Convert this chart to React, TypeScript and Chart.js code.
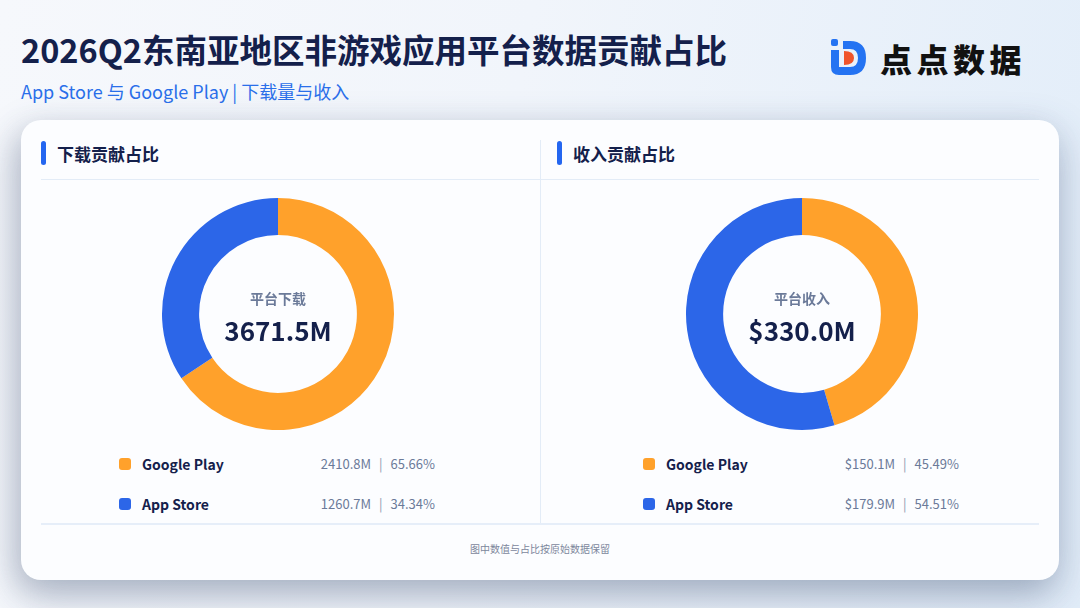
import React, { useEffect, useRef } from "react";
import { Chart, registerables } from "chart.js";

Chart.register(...registerables);

const platforms = ["Google Play", "App Store"];
const colors = ["#FFA12B", "#2C66E8"];
const downloadValues = [2410.8, 1260.7];
const downloadShares = ["65.66%", "34.34%"];
const revenueValues = [150.1, 179.9];
const revenueShares = ["45.49%", "54.51%"];
const downloadTotal = "3671.5M";
const revenueTotal = "$330.0M";

const FONT = "'Noto Sans CJK SC', 'Noto Sans', sans-serif";
const NAVY = "#14204B";
const GRAY = "#6B7A99";

function Donut({ values, left, top }: { values: number[]; left: number; top: number }) {
  const ref = useRef<HTMLCanvasElement | null>(null);
  useEffect(() => {
    if (!ref.current) return;
    const chart = new Chart(ref.current, {
      type: "doughnut",
      data: {
        labels: platforms,
        datasets: [
          {
            data: values,
            backgroundColor: colors,
            borderWidth: 0,
          },
        ],
      },
      options: {
        responsive: false,
        animation: false,
        cutout: "68%",
        layout: { padding: 4 },
        plugins: { legend: { display: false }, tooltip: { enabled: false } },
      },
    });
    return () => chart.destroy();
  }, []);
  return (
    <canvas
      ref={ref}
      width={240}
      height={240}
      style={{ position: "absolute", left, top, width: 240, height: 240 }}
    />
  );
}

function abs(left: number, top: number, extra: React.CSSProperties = {}): React.CSSProperties {
  return { position: "absolute", left, top, whiteSpace: "nowrap", ...extra };
}

function Panel({
  x,
  cx,
  title,
  values,
  shares,
  centerLabel,
  total,
  prefix,
}: {
  x: number;
  cx: number;
  title: string;
  values: number[];
  shares: string[];
  centerLabel: string;
  total: string;
  prefix: string;
}) {
  return (
    <>
      <div style={abs(x, 141, { width: 4.5, height: 24, borderRadius: 2.5, background: "#2466F0" })} />
      <div style={abs(x + 16, 140, { fontSize: 17, fontWeight: 700, color: NAVY, lineHeight: "28px" })}>
        {title}
      </div>
      <Donut values={values} left={cx - 120} top={194} />
      <div
        style={abs(cx - 80, 286, {
          width: 160,
          textAlign: "center",
          fontSize: 14,
          fontWeight: 700,
          color: GRAY,
          lineHeight: "24px",
        })}
      >
        {centerLabel}
      </div>
      <div
        style={abs(cx - 90, 312, {
          width: 180,
          textAlign: "center",
          fontSize: 26,
          fontWeight: 700,
          color: NAVY,
          lineHeight: "36px",
        })}
      >
        {total}
      </div>
      {platforms.map((p, i) => (
        <React.Fragment key={p}>
          <div
            style={abs(cx - 159, 458 + i * 40, {
              width: 12,
              height: 12,
              borderRadius: 3,
              background: colors[i],
            })}
          />
          <div
            style={abs(cx - 136, 452 + i * 40, {
              fontSize: 14,
              fontWeight: 700,
              color: NAVY,
              lineHeight: "24px",
            })}
          >
            {p}
          </div>
          <div
            style={abs(cx - 43, 452 + i * 40, {
              width: 200,
              textAlign: "right",
              fontSize: 13,
              color: GRAY,
              lineHeight: "24px",
            })}
          >
            {prefix + values[i].toFixed(1) + "M"}
            <span style={{ margin: "0 8px", color: "#8E98AE" }}>|</span>
            {shares[i]}
          </div>
        </React.Fragment>
      ))}
    </>
  );
}

export default function App() {
  return (
    <div
      style={{
        position: "fixed",
        left: 0,
        top: 0,
        width: 1080,
        height: 608,
        overflow: "hidden",
        fontFamily: FONT,
        background:
          "linear-gradient(100deg, #F6F8FC 0%, #F1F5FB 45%, #E2EDF9 100%)",
      }}
    >
      <div
        style={abs(21, 26, {
          fontSize: 32.5,
          fontWeight: 700,
          color: NAVY,
          lineHeight: "46px",
          letterSpacing: 0,
        })}
      >
        2026Q2东南亚地区非游戏应用平台数据贡献占比
      </div>
      <div style={abs(21, 78, { fontSize: 18, color: "#2A6FEA", lineHeight: "26px" })}>
        App Store 与 Google Play | 下载量与收入
      </div>
      {/* logo */}
      <svg style={abs(828, 37)} width={44} height={40} viewBox="0 0 44 40">
        <rect x={3} y={2} width={7} height={7} rx={2} fill="#2473F2" />
        <path
          d="M3 13 L3 30 Q3 38 11 38 L22 38 Q38 38 38 21 Q38 4 22 4 L15 4 L15 12 L22 12 Q30 12 30 21 Q30 30 22 30 L11 30 L11 13 Z"
          fill="#2473F2"
        />
        <path d="M16 14 Q26 14 26 21 Q26 28 16 28 Z" fill="#F0542A" />
      </svg>
      <div
        style={abs(880, 36, {
          fontSize: 32,
          fontWeight: 900,
          color: "#111",
          lineHeight: "44px",
          letterSpacing: 4.5,
        })}
      >
        点点数据
      </div>
      {/* card */}
      <div
        style={abs(21, 120, {
          width: 1038,
          height: 460,
          borderRadius: 20,
          background: "#FCFDFF",
          boxShadow: "0 14px 40px rgba(60,80,120,0.32), -8px 12px 30px rgba(80,90,110,0.18)",
        })}
      />
      <div style={abs(41, 179, { width: 998, height: 1, background: "#E3ECF7" })} />
      <div style={abs(540, 140, { width: 1, height: 384, background: "#E3ECF7" })} />
      <div style={abs(41, 523, { width: 998, height: 2, background: "#E6EEF9" })} />
      <Panel
        x={41}
        cx={278}
        title="下载贡献占比"
        values={downloadValues}
        shares={downloadShares}
        centerLabel="平台下载"
        total={downloadTotal}
        prefix=""
      />
      <Panel
        x={557}
        cx={802}
        title="收入贡献占比"
        values={revenueValues}
        shares={revenueShares}
        centerLabel="平台收入"
        total={revenueTotal}
        prefix="$"
      />
      <div
        style={abs(340, 541, {
          width: 400,
          textAlign: "center",
          fontSize: 10,
          color: "#7D879C",
          lineHeight: "16px",
        })}
      >
        图中数值与占比按原始数据保留
      </div>
    </div>
  );
}
